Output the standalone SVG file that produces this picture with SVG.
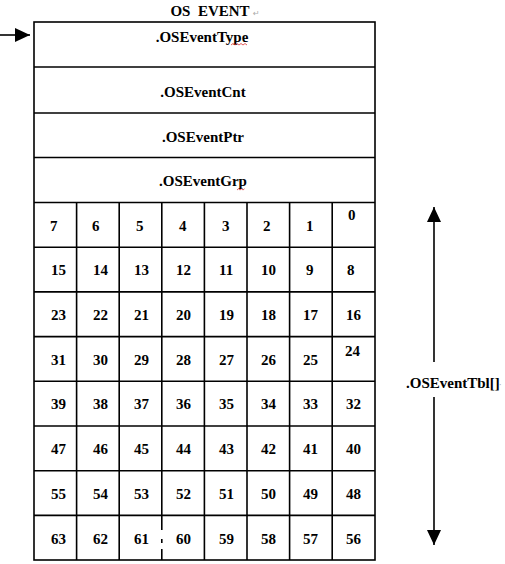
<svg xmlns="http://www.w3.org/2000/svg" width="505" height="564" viewBox="0 0 505 564">
<style>
.t{font-family:"Liberation Serif","Times New Roman",serif;font-weight:bold;font-size:15px;fill:#000}
.n{font-family:"Liberation Serif","Times New Roman",serif;font-weight:bold;font-size:15px;fill:#000}
.ln{stroke:#000;stroke-width:1.6;fill:none}
.mk{font-family:"DejaVu Sans",sans-serif;font-size:8px;fill:#aaa}
.sq{stroke:#d33;stroke-width:0.8;fill:none}
</style>
<defs>
<marker id="ah" markerWidth="15" markerHeight="14" refX="15" refY="7" orient="auto" markerUnits="userSpaceOnUse">
<path d="M0,0 L15,7 L0,14 Z" fill="#000"/>
</marker>
</defs>
<rect width="505" height="564" fill="#fff"/>
<g id="title">
<text class="t" x="210" y="16" text-anchor="middle" xml:space="preserve">OS  EVENT</text>
<text class="mk" x="253" y="16">↵</text>
</g>
<g id="os_event">
<rect class="ln" x="34" y="22" width="341" height="538" stroke-width="2"/>
<line class="ln" x1="34" y1="67" x2="375" y2="67"/>
<line class="ln" x1="34" y1="113" x2="375" y2="113"/>
<line class="ln" x1="34" y1="157.5" x2="375" y2="157.5"/>
<line class="ln" x1="34" y1="202.5" x2="375" y2="202.5"/>
</g>
<g id="field_type"><text class="t" x="202" y="42" text-anchor="middle">.OSEventType</text>
<path class="sq" d="M231,45 l2,-1.5 l2,1.5 l2,-1.5 l2,1.5 l2,-1.5 l2,1.5 l2,-1.5 l2,1.5"/></g>
<g id="field_cnt"><text class="t" x="203" y="97" text-anchor="middle">.OSEventCnt</text></g>
<g id="field_ptr"><text class="t" x="203" y="142" text-anchor="middle">.OSEventPtr</text></g>
<g id="field_grp"><text class="t" x="203" y="186" text-anchor="middle">.OSEventGrp</text>
<path class="sq" d="M237,190 l1.5,-1.2 l1.5,1.2 l1.5,-1.2 l1.5,1.2 l1.5,-1.2"/></g>
<g id="tbl_grid">
<line class="ln" x1="34" y1="247.2" x2="375" y2="247.2"/>
<line class="ln" x1="34" y1="291.9" x2="375" y2="291.9"/>
<line class="ln" x1="34" y1="336.6" x2="375" y2="336.6"/>
<line class="ln" x1="34" y1="381.3" x2="375" y2="381.3"/>
<line class="ln" x1="34" y1="426" x2="375" y2="426"/>
<line class="ln" x1="34" y1="470.7" x2="375" y2="470.7"/>
<line class="ln" x1="34" y1="515.4" x2="375" y2="515.4"/>
<line class="ln" x1="76.6" y1="202.5" x2="76.6" y2="560"/>
<line class="ln" x1="119.2" y1="202.5" x2="119.2" y2="560"/>
<line class="ln" x1="161.8" y1="202.5" x2="161.8" y2="530"/>
<line class="ln" x1="161.8" y1="539" x2="161.8" y2="543"/>
<line class="ln" x1="161.8" y1="549" x2="161.8" y2="560"/>
<line class="ln" x1="204.4" y1="202.5" x2="204.4" y2="560"/>
<line class="ln" x1="247" y1="202.5" x2="247" y2="560"/>
<line class="ln" x1="289.6" y1="202.5" x2="289.6" y2="560"/>
<line class="ln" x1="332.2" y1="202.5" x2="332.2" y2="560"/>
</g>
<g id="tbl_numbers">
<text class="n" x="50" y="231">7</text><text class="n" x="92" y="231">6</text><text class="n" x="136" y="231">5</text><text class="n" x="179" y="231">4</text><text class="n" x="222" y="231">3</text><text class="n" x="263" y="231">2</text><text class="n" x="306" y="231">1</text><text class="n" x="348" y="220">0</text>
<text class="n" x="51" y="275">15</text><text class="n" x="93" y="275">14</text><text class="n" x="134" y="275">13</text><text class="n" x="176" y="275">12</text><text class="n" x="219" y="275">11</text><text class="n" x="261" y="275">10</text><text class="n" x="306" y="275">9</text><text class="n" x="347" y="275">8</text>
<text class="n" x="51" y="320">23</text><text class="n" x="93" y="320">22</text><text class="n" x="134" y="320">21</text><text class="n" x="176" y="320">20</text><text class="n" x="219" y="320">19</text><text class="n" x="261" y="320">18</text><text class="n" x="303" y="320">17</text><text class="n" x="346" y="320">16</text>
<text class="n" x="51" y="365">31</text><text class="n" x="93" y="365">30</text><text class="n" x="134" y="365">29</text><text class="n" x="176" y="365">28</text><text class="n" x="219" y="365">27</text><text class="n" x="261" y="365">26</text><text class="n" x="303" y="365">25</text><text class="n" x="345" y="356">24</text>
<text class="n" x="51" y="409">39</text><text class="n" x="93" y="409">38</text><text class="n" x="134" y="409">37</text><text class="n" x="176" y="409">36</text><text class="n" x="219" y="409">35</text><text class="n" x="261" y="409">34</text><text class="n" x="303" y="409">33</text><text class="n" x="346" y="409">32</text>
<text class="n" x="51" y="454">47</text><text class="n" x="93" y="454">46</text><text class="n" x="134" y="454">45</text><text class="n" x="176" y="454">44</text><text class="n" x="219" y="454">43</text><text class="n" x="261" y="454">42</text><text class="n" x="303" y="454">41</text><text class="n" x="346" y="454">40</text>
<text class="n" x="51" y="499">55</text><text class="n" x="93" y="499">54</text><text class="n" x="134" y="499">53</text><text class="n" x="176" y="499">52</text><text class="n" x="219" y="499">51</text><text class="n" x="261" y="499">50</text><text class="n" x="303" y="499">49</text><text class="n" x="346" y="499">48</text>
<text class="n" x="51" y="544">63</text><text class="n" x="93" y="544">62</text><text class="n" x="134" y="544">61</text><text class="n" x="176" y="544">60</text><text class="n" x="219" y="544">59</text><text class="n" x="261" y="544">58</text><text class="n" x="303" y="544">57</text><text class="n" x="346" y="544">56</text>
</g>
<g id="tbl_label">
<text class="t" x="406" y="388">.OSEventTbl[]</text>
<text class="mk" x="499" y="388">·</text>
</g>
<g id="connectors">
<line class="ln" x1="0" y1="35" x2="30" y2="35" marker-end="url(#ah)"/>
<line class="ln" x1="434" y1="362" x2="434" y2="207" marker-end="url(#ah)"/>
<line class="ln" x1="434" y1="397" x2="434" y2="545" marker-end="url(#ah)"/>
</g>
</svg>
